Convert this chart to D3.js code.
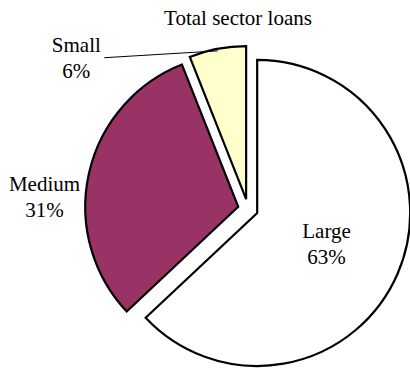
<!DOCTYPE html>
<html>
<head>
<meta charset="utf-8">
<script src="https://cdn.jsdelivr.net/npm/d3@7"></script>
<style>
  body { margin: 0; background: #fff; }
</style>
</head>
<body>
<svg id="chart"></svg>
<script>
// chart data
var title = 'Total sector loans';
var categories = ['Large', 'Medium', 'Small'];
var shares = [63, 31, 6];
var colors = ['#ffffff', '#993366', '#ffffcc'];

var width = 410, height = 370;
var cx = 248, cy = 209;
var radius = 153;
var explode = 10;
var font = "'Times New Roman', Times, 'Liberation Serif', 'DejaVu Serif', serif";

// label spots, polar around each slice's own centre (degrees clockwise from 12 o'clock)
var labelLayout = {
  Large:  {angle: 114, r: 76},
  Medium: {angle: 273, r: 194},
  Small:  {angle: 309.8, r: 221}
};

var data = categories.map((c, i) => ({name: c, value: shares[i], color: colors[i]}));

var svg = d3.select('#chart')
  .attr('width', width)
  .attr('height', height);

svg.append('text')
  .attr('x', 238)
  .attr('y', 25)
  .attr('text-anchor', 'middle')
  .attr('font-family', font)
  .attr('font-size', 21)
  .text(title);

var pie = d3.pie().sort(null).value(d => d.value);
var arc = d3.arc().innerRadius(0).outerRadius(radius);
var arcs = pie(data);

function polar(a, r) {
  return [r * Math.sin(a), -r * Math.cos(a)];
}

arcs.forEach(function(d) {
  var mid = (d.startAngle + d.endAngle) / 2;
  var off = polar(mid, explode);
  d.ox = cx + off[0];
  d.oy = cy + off[1];
  d.mid = mid;
});

svg.append('g')
  .selectAll('path.slice')
  .data(arcs)
  .enter()
  .append('path')
  .attr('class', 'slice')
  .attr('transform', d => `translate(${d.ox}, ${d.oy})`)
  .attr('d', arc)
  .style('fill', d => d.data.color)
  .style('stroke', '#000')
  .style('stroke-width', '2.2px');

// leader line for the small slice
var small = arcs[2];
var tip = polar(small.mid, radius - 2);
var sp = polar(labelLayout.Small.angle * Math.PI / 180, labelLayout.Small.r);
svg.append('line')
  .attr('x1', small.ox + sp[0] + 28)
  .attr('y1', small.oy + sp[1])
  .attr('x2', small.ox + tip[0])
  .attr('y2', small.oy + tip[1])
  .style('stroke', '#000')
  .style('stroke-width', '1px');

arcs.forEach(function(d) {
  var l = labelLayout[d.data.name];
  var p = polar(l.angle * Math.PI / 180, l.r);
  var x = d.ox + p[0], y = d.oy + p[1];
  var t = svg.append('text')
    .attr('text-anchor', 'middle')
    .attr('font-family', font)
    .attr('font-size', 21);
  t.append('tspan').attr('x', x).attr('y', y - 6).text(d.data.name);
  t.append('tspan').attr('x', x).attr('y', y + 20).text(d.data.value + '%');
});
</script>
</body>
</html>
